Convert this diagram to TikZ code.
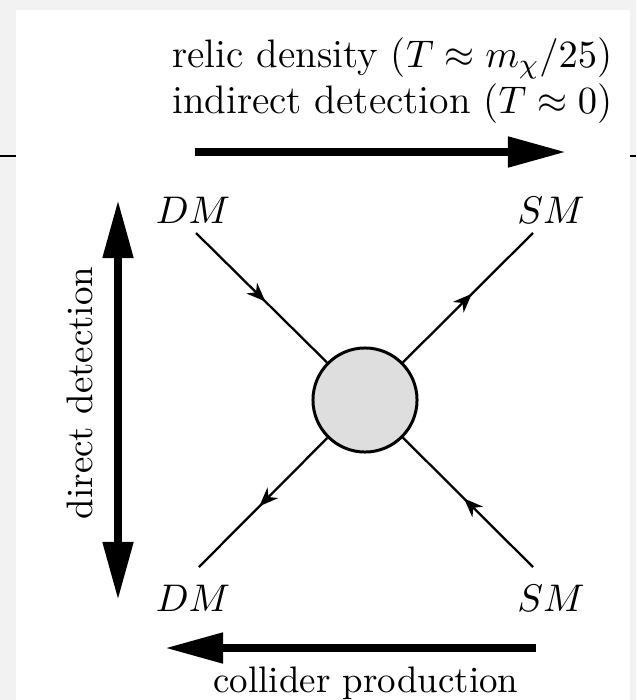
\documentclass[tikz,border=0pt]{standalone}
\usetikzlibrary{arrows.meta,decorations.markings}
\definecolor{framegray}{HTML}{F2F2F2}
\definecolor{blobgray}{HTML}{DEDEDE}
\begin{document}
\begin{tikzpicture}[x=0.01cm, y=-0.01cm, font=\fontsize{10.5}{12.6}\selectfont,
	fermion/.style={line width=0.65pt, postaction={decorate}, decoration={markings, mark=at position 0.53 with {\arrow{Stealth[length=0.19cm, width=0.15cm, inset=0.06cm]}}}},
	bigarrow/.style={line width=0.08cm, -{Triangle[length=0.58cm, width=0.29cm]}},
	bigboth/.style={line width=0.08cm, {Triangle[length=0.58cm, width=0.29cm]}-{Triangle[length=0.58cm, width=0.29cm]}},
	toplabel/.style={anchor=east, inner sep=0pt, font=\fontsize{11.3}{13.6}\selectfont}]
	\useasboundingbox (0,0) rectangle (636,700);
	% Frame:
	\fill[framegray] (0,0) rectangle (636,700);
	\fill[white] (16,10) rectangle (630,700);
	\draw[line width=0.02cm] (0,156) -- (16,156);
	\draw[line width=0.02cm] (630,156) -- (636,156);
	% Paths, nodes and wires:
	\node[shape=circle, draw, line width=0.85pt, fill=blobgray, minimum width=1.04cm, inner sep=0pt](blob) at (365, 400){};
	\node(dmTL) at (193, 210){$DM$};
	\node(smTR) at (551, 210){$SM$};
	\node(dmBL) at (193, 598){$DM$};
	\node(smBR) at (551, 598){$SM$};
	\coordinate(pTL) at (196, 233);
	\coordinate(pTR) at (533, 233);
	\coordinate(pBL) at (199, 567);
	\coordinate(pBR) at (533, 567);
	\draw[fermion] (pTL) -- (blob);
	\draw[fermion] (blob) -- (pTR);
	\draw[fermion] (blob) -- (pBL);
	\draw[fermion] (pBR) -- (blob);
	% Process arrows:
	\node[toplabel](relic) at (613, 58){relic density ($T\approx m_\chi/25$)};
	\node[toplabel](indirect) at (613, 104){indirect detection ($T\approx 0$)};
	\coordinate(aTopL) at (195, 152);
	\coordinate(aTopR) at (566, 152);
	\draw[bigarrow] (aTopL) -- (aTopR);
	\coordinate(aLeftT) at (118, 200);
	\coordinate(aLeftB) at (118, 600);
	\draw[bigboth] (aLeftT) -- (aLeftB);
	\node[rotate=90](direct) at (80, 393){direct detection};
	\coordinate(aBotR) at (536, 648);
	\coordinate(aBotL) at (165, 648);
	\draw[bigarrow] (aBotR) -- (aBotL);
	\node(collider) at (366, 683){collider production};
\end{tikzpicture}
\end{document}
